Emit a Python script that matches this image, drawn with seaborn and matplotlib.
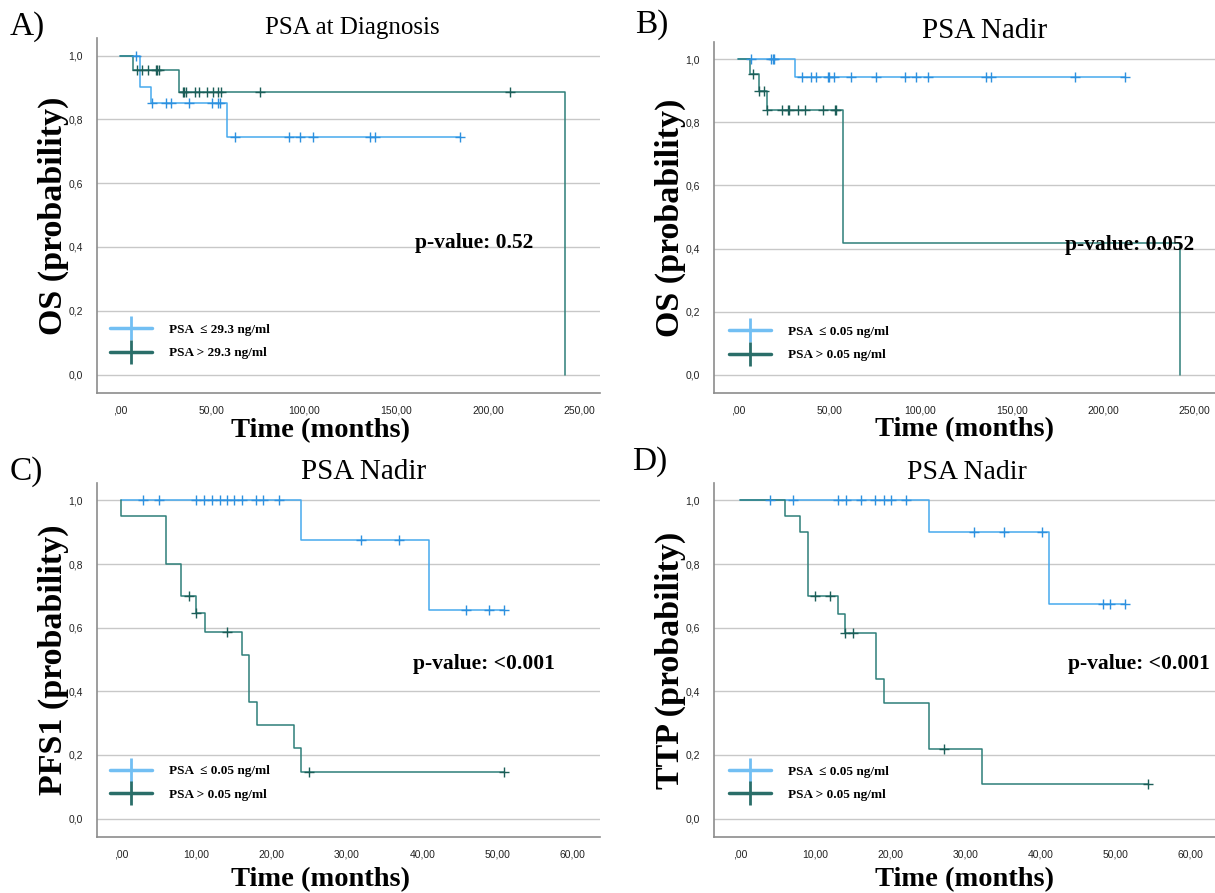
"""
Kaplan-Meier curves: OS / PFS1 / TTP by PSA group (4 panels)
"""
import numpy as np
import pandas as pd
import matplotlib
matplotlib.use('Agg')
import matplotlib.pyplot as plt
from matplotlib.lines import Line2D
import seaborn as sns

# ---- data (times in months, survival probability) ----
# A) OS, PSA at diagnosis
A_LOW_T = [0, 11.0, 17.0, 58.3]
A_LOW_S = [1.0, 0.900, 0.851, 0.744]
A_LOW_END = 184.8
A_LOW_CENS = [8.5, 17.2, 24.8, 28.0, 37.7, 49.8, 53.4, 54.3, 62.5, 91.8,
              97.8, 104.7, 136.0, 138.8, 184.8]
A_HIGH_T = [0, 7.2, 32.1, 242.0]
A_HIGH_S = [1.0, 0.954, 0.886, 0.0]
A_HIGH_END = 242.0
A_HIGH_CENS = [9.0, 11.8, 15.0, 19.6, 20.3, 21.0, 34.0, 35.0, 35.9, 40.8,
               43.0, 47.5, 50.7, 53.3, 54.7, 76.0, 212.0]

# B) OS, PSA nadir
B_LOW_T = [0, 31.2]
B_LOW_S = [1.0, 0.943]
B_LOW_END = 212.4
B_LOW_CENS = [7.0, 18.3, 19.0, 19.8, 35.2, 40.0, 42.8, 49.2, 50.0, 52.7,
              61.8, 75.6, 91.4, 97.5, 104.3, 135.8, 138.8, 184.5, 212.4]
B_HIGH_T = [0, 6.4, 11.2, 16.1, 57.4, 242.3]
B_HIGH_S = [1.0, 0.952, 0.900, 0.838, 0.419, 0.0]
B_HIGH_END = 242.3
B_HIGH_CENS = [8.3, 11.4, 14.1, 16.1, 23.9, 27.2, 27.9, 33.0, 36.7, 46.8,
               52.9, 53.6]

# C) PFS1, PSA nadir
C_LOW_T = [0, 23.9, 40.9]
C_LOW_S = [1.0, 0.876, 0.656]
C_LOW_END = 50.8
C_LOW_CENS = [2.9, 5.0, 10.0, 11.05, 12.1, 13.1, 14.0, 15.0, 16.0, 17.9,
              18.9, 21.0, 31.9, 36.9, 45.8, 48.8, 50.8]
C_HIGH_T = [0, 0.05, 6.0, 8.0, 10.0, 11.1, 16.0, 17.0, 18.0, 22.9, 23.9]
C_HIGH_S = [1.0, 0.952, 0.801, 0.700, 0.646, 0.588, 0.515, 0.368, 0.294,
            0.221, 0.147]
C_HIGH_END = 50.8
C_HIGH_CENS = [9.0, 10.0, 14.0, 24.9, 50.8]

# D) TTP, PSA nadir
D_LOW_T = [0, 25.1, 41.2]
D_LOW_S = [1.0, 0.900, 0.674]
D_LOW_END = 51.3
D_LOW_CENS = [4.0, 7.0, 13.0, 14.1, 16.1, 18.0, 19.1, 20.1, 22.1, 31.1,
              35.2, 40.2, 48.3, 49.3, 51.3]
D_HIGH_T = [0, 6.0, 8.0, 9.0, 13.0, 14.0, 18.1, 19.1, 25.2, 32.2]
D_HIGH_S = [1.0, 0.950, 0.900, 0.700, 0.642, 0.582, 0.438, 0.364, 0.219,
            0.110]
D_HIGH_END = 54.4
D_HIGH_CENS = [10.0, 12.0, 14.0, 15.0, 27.2, 54.4]

# ---- labels ----
PANEL_LETTERS = ['A)', 'B)', 'C)', 'D)']
TITLES = ['PSA at Diagnosis', 'PSA Nadir', 'PSA Nadir', 'PSA Nadir']
YLABELS = ['OS (probability)', 'OS (probability)', 'PFS1 (probability)', 'TTP (probability)']
XLABEL = 'Time (months)'
PVALUES = ['p-value: 0.52', 'p-value: 0.052', 'p-value: <0.001', 'p-value: <0.001']
LEGENDS = [['PSA  \u2264 29.3 ng/ml', 'PSA > 29.3 ng/ml'],
           ['PSA  \u2264 0.05 ng/ml', 'PSA > 0.05 ng/ml'],
           ['PSA  \u2264 0.05 ng/ml', 'PSA > 0.05 ng/ml'],
           ['PSA  \u2264 0.05 ng/ml', 'PSA > 0.05 ng/ml']]
Y_TICKS = [0.0, 0.2, 0.4, 0.6, 0.8, 1.0]
Y_TICKLABELS = ['0,0', '0,2', '0,4', '0,6', '0,8', '1,0']
X_TICKS_LONG = [0, 50, 100, 150, 200, 250]
X_TICKLABELS_LONG = [',00', '50,00', '100,00', '150,00', '200,00', '250,00']
X_TICKS_SHORT = [0, 10, 20, 30, 40, 50, 60]
X_TICKLABELS_SHORT = [',00', '10,00', '20,00', '30,00', '40,00', '50,00', '60,00']

BLUE, BLUE_MK, BLUE_LEG = '#46a9ee', '#2d90df', '#72bff3'
TEAL, TEAL_MK, TEAL_LEG = '#2e7f79', '#1c5e58', '#2a6e69'
SERIF = ['Liberation Serif', 'DejaVu Serif']
SANS = ['Liberation Sans', 'DejaVu Sans']

sns.set_style('white')
plt.rcParams['font.family'] = SANS
plt.rcParams['text.color'] = 'black'
plt.rcParams['axes.labelcolor'] = 'black'


def draw_km(ax, t, s, end, cens, color, mcolor):
    tt, ss = list(t), list(s)
    if end > tt[-1]:
        tt.append(end)
        ss.append(ss[-1])
    curve = pd.DataFrame({'time': tt, 'surv': ss})
    sns.lineplot(data=curve, x='time', y='surv', ax=ax, estimator=None, sort=False,
                 drawstyle='steps-post', color=color, linewidth=1.1)
    idx = np.searchsorted(np.array(t), np.array(cens), side='right') - 1
    marks = pd.DataFrame({'time': cens, 'surv': np.array(s)[idx]})
    sns.scatterplot(data=marks, x='time', y='surv', ax=ax, marker='+', s=45,
                    color=mcolor, linewidth=1.0, zorder=4)


fig = plt.figure(figsize=(12.15, 8.93), dpi=100)
W, H = 1215, 893
# axes boxes in pixels: left, top, right, bottom
boxes = [(97, 38, 600, 393), (714, 42, 1215, 393), (97, 483, 600, 837), (714, 483, 1215, 837)]
xlims = [(-12.5, 261), (-13.2, 261.5), (-3.2, 63.6), (-3.5, 63.3)]
letter_pos = [(10, 27), (635, 25), (10, 472), (632, 462)]
pval_pos = [(0.632, 0.4225), (0.70, 0.4225), (0.628, 0.49), (0.707, 0.49)]
leg_pos = [(0.026, 0.145), (0.03, 0.141), (0.026, 0.153), (0.03, 0.152)]
title_size = [18, 21, 21, 20]
title_x = [0.507, 0.541, 0.53, 0.505]
xlabel_x = [0.445, 0.5, 0.445, 0.5]
xlabel_y = [-0.07, -0.07, -0.086, -0.086]

panels = [
    (A_LOW_T, A_LOW_S, A_LOW_END, A_LOW_CENS, A_HIGH_T, A_HIGH_S, A_HIGH_END, A_HIGH_CENS),
    (B_LOW_T, B_LOW_S, B_LOW_END, B_LOW_CENS, B_HIGH_T, B_HIGH_S, B_HIGH_END, B_HIGH_CENS),
    (C_LOW_T, C_LOW_S, C_LOW_END, C_LOW_CENS, C_HIGH_T, C_HIGH_S, C_HIGH_END, C_HIGH_CENS),
    (D_LOW_T, D_LOW_S, D_LOW_END, D_LOW_CENS, D_HIGH_T, D_HIGH_S, D_HIGH_END, D_HIGH_CENS),
]

for i, p in enumerate(panels):
    l, t, r, b = boxes[i]
    ax = fig.add_axes([l / W, 1 - b / H, (r - l) / W, (b - t) / H])
    draw_km(ax, p[0], p[1], p[2], p[3], BLUE, BLUE_MK)
    draw_km(ax, p[4], p[5], p[6], p[7], TEAL, TEAL_MK)

    ax.set_xlim(*xlims[i])
    ax.set_ylim(-0.058, 1.055)
    if i < 2:
        ax.set_xticks(X_TICKS_LONG, X_TICKLABELS_LONG)
    else:
        ax.set_xticks(X_TICKS_SHORT, X_TICKLABELS_SHORT)
    ax.set_yticks(Y_TICKS, Y_TICKLABELS)
    ax.tick_params(axis='both', length=0, labelsize=7.5, colors='#222222')
    ax.tick_params(axis='x', pad=9)
    ax.tick_params(axis='y', pad=10)
    ax.yaxis.grid(True, color='#c8c8c8', linewidth=1.0)
    ax.xaxis.grid(False)
    ax.set_axisbelow(True)
    for side in ['top', 'right']:
        ax.spines[side].set_visible(False)
    for side in ['left', 'bottom']:
        ax.spines[side].set_color('#8c8c8c')
        ax.spines[side].set_linewidth(1.2)

    ax.set_xlabel(XLABEL, family=SERIF, fontsize=20.5, fontweight='bold')
    ax.xaxis.set_label_coords(xlabel_x[i], xlabel_y[i], transform=ax.transAxes)
    ax.set_ylabel(YLABELS[i], family=SERIF, fontsize=24.5, fontweight='bold', labelpad=0)
    ttl = ax.set_title(TITLES[i], family=SERIF, fontsize=title_size[i], pad=3)
    ttl.set_x(title_x[i])
    ax.text(pval_pos[i][0], pval_pos[i][1], PVALUES[i], transform=ax.transAxes,
            family=SERIF, fontsize=15.5, fontweight='bold', ha='left', va='center')

    handles = [Line2D([], [], color=BLUE_LEG, linewidth=2.5, marker='+', markersize=17,
                      markeredgewidth=2.0),
               Line2D([], [], color=TEAL_LEG, linewidth=2.5, marker='+', markersize=17,
                      markeredgewidth=2.0)]
    ax.legend(handles, LEGENDS[i], loc='center left', bbox_to_anchor=leg_pos[i],
              frameon=False, borderpad=0, borderaxespad=0, handlelength=3.2,
              handletextpad=1.3, labelspacing=0.85,
              prop={'family': SERIF, 'weight': 'bold', 'size': 9.5})

    lx, ly = letter_pos[i]
    fig.text(lx / W, 1 - ly / H, PANEL_LETTERS[i], family=SERIF, fontsize=24,
             ha='left', va='center')

fig.savefig('out.png', dpi=100)
plt.close(fig)
